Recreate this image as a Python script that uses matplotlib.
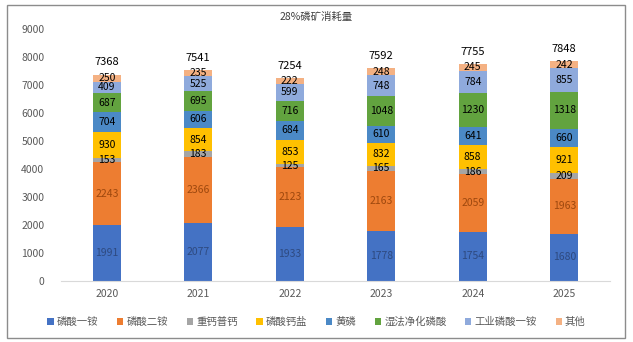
import matplotlib.pyplot as plt
import numpy as np
from matplotlib.patches import Rectangle

plt.rcParams['font.family'] = ['Noto Sans CJK SC', 'DejaVu Sans']

years = ['2020', '2021', '2022', '2023', '2024', '2025']
names = ['磷酸一铵', '磷酸二铵', '重钙普钙', '磷酸钙盐', '黄磷', '湿法净化磷酸', '工业磷酸一铵', '其他']
mono = [1991, 2077, 1933, 1778, 1754, 1680]
dap = [2243, 2366, 2123, 2163, 2059, 1963]
tsp = [153, 183, 125, 165, 186, 209]
calcium = [930, 854, 853, 832, 858, 921]
yellow_p = [704, 606, 684, 610, 641, 660]
wet_acid = [687, 695, 716, 1048, 1230, 1318]
ind_map = [409, 525, 599, 748, 784, 855]
other = [250, 235, 222, 248, 245, 242]
totals = [7368, 7541, 7254, 7592, 7755, 7848]

series = [mono, dap, tsp, calcium, yellow_p, wet_acid, ind_map, other]
colors = ['#4472C4', '#ED7D31', '#A5A5A5', '#FFC000', '#4B89C6', '#62A33F', '#8FAADC', '#F4B183']
label_colors = ['#2E4A80', '#9E480E', 'black', 'black', 'black', 'black', 'black', 'black']

fig = plt.figure(figsize=(6.33, 3.42), dpi=100)
fig.patches.append(Rectangle((7 / 633, 4 / 342), 618 / 633, 333 / 342, transform=fig.transFigure,
                             fill=False, edgecolor='#8c8c8c', linewidth=1))
ax = fig.add_axes([61 / 633, 61 / 342, 549 / 633, 252 / 342])

x = np.arange(len(years))
bottom = np.zeros(len(years))
for vals, name, c, lc in zip(series, names, colors, label_colors):
    vals = np.array(vals)
    ax.bar(x, vals, 0.31, bottom=bottom, color=c, label=name)
    for xi, b, v in zip(x, bottom, vals):
        ax.text(xi, b + v / 2, str(v), ha='center', va='center', fontsize=7.5, color=lc)
    bottom += vals

for xi, t in zip(x, totals):
    ax.text(xi, t + 440, str(t), ha='center', va='center', fontsize=8, color='black')

ax.set_xlim(-0.5, len(years) - 0.5)
ax.set_ylim(0, 9000)
ax.set_yticks(range(0, 9001, 1000))
ax.set_xticks(x)
ax.set_xticklabels(years)
for s in ['top', 'right', 'left']:
    ax.spines[s].set_visible(False)
ax.spines['bottom'].set_color('#d9d9d9')
ax.tick_params(axis='both', length=0, labelsize=7.5, labelcolor='#595959')
ax.tick_params(axis='y', pad=12)
ax.tick_params(axis='x', pad=6)

fig.text(0.5, 1 - 17 / 342, '28%磷矿消耗量', ha='center', va='center', fontsize=7.5, color='#404040')
fig.legend(loc='center', bbox_to_anchor=(0.5, 1 - 322 / 342), ncol=8, frameon=False,
           fontsize=7.5, handlelength=0.6, handleheight=0.6, handletextpad=0.3, columnspacing=1.8,
           labelcolor='#595959')

fig.savefig('out.png', dpi=100)
